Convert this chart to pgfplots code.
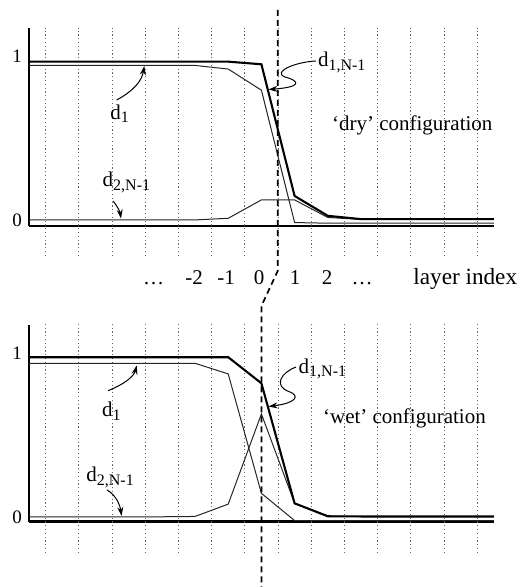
\documentclass[border=0pt]{standalone}
\usepackage{fontspec}
\setmainfont{Liberation Serif}
\usepackage{pgfplots}
\pgfplotsset{compat=1.18}
\usetikzlibrary{arrows.meta}

\newcommand{\dsub}[1]{d\raisebox{-1.8pt}{\fontsize{8}{8}\selectfont #1}}

\tikzset{dotline/.style={line width=0.5pt, black!60, dash pattern=on 0.6pt off 1.3pt}}
\pgfplotsset{
  panel/.style={
    anchor=south west, x=16.6pt, y=82pt, xmin=-7, xmax=7,
    axis x line*=bottom, axis y line*=left,
    axis line style={line width=1.4pt},
    xtick=\empty, ytick={0,1}, major tick length=0pt,
    tick label style={font=\fontsize{9.5}{9.5}\selectfont},
    /pgf/number format/assume math mode=true,
    clip=false,
  },
  thk/.style={line width=1.05pt, black, mark=none},
  thn/.style={line width=0.5pt, black!85, mark=none},
}

\begin{document}
\begin{tikzpicture}
\path[use as bounding box] (0pt,0pt) rectangle (262pt,293.5pt);

% ---------------- top panel: dry ----------------
\begin{scope}[shift={(14.5pt,180.5pt)}]
\begin{axis}[panel, ymin=-0.037, ymax=1.171]
  \pgfplotsinvokeforeach{-6.5,-5.5,...,6.5}{
    \draw[dotline] (axis cs:#1,-0.22) -- (axis cs:#1,1.171);
  }
  % d_{2,N-1}
  \addplot[thn] coordinates {(-7,0) (-6,0) (-5,0) (-4,0) (-3,0) (-2,0.0) (-1,0.01) (0,0.122) (1,0.122) (2,0.015) (3,0.003) (4,0.003) (5,0.003) (6,0.003) (7,0.003)};
  % d_1
  \addplot[thn] coordinates {(-7,0.942) (-6,0.942) (-5,0.942) (-4,0.942) (-3,0.942) (-2,0.942) (-1,0.92) (0,0.791) (1,-0.016) (2,-0.02) (3,-0.02) (4,-0.02) (5,-0.02) (6,-0.02) (7,-0.02)};
  % d_{1,N-1}
  \addplot[thk] coordinates {(-7,0.965) (-6,0.965) (-5,0.965) (-4,0.965) (-3,0.965) (-2,0.965) (-1,0.965) (0,0.949) (1,0.146) (2,0.025) (3,0.005) (4,0.005) (5,0.005) (6,0.005) (7,0.005)};
\end{axis}
\end{scope}

% ---------------- bottom panel: wet ----------------
\begin{scope}[shift={(14.5pt,32.65pt)}]
\begin{axis}[panel, ymin=-0.027, ymax=1.1726]
  \pgfplotsinvokeforeach{-6.5,-5.5,...,6.5}{
    \draw[dotline] (axis cs:#1,-0.218) -- (axis cs:#1,1.185);
  }
  % d_{2,N-1}
  \addplot[thn] coordinates {(-7,0.003) (-6,0.003) (-5,0.003) (-4,0.003) (-3,0.003) (-2,0.005) (-1,0.08) (0,0.63) (1,0.085) (2,0.008) (3,0.004) (4,0.004) (5,0.004) (6,0.004) (7,0.004)};
  % d_1
  \addplot[thn] coordinates {(-7,0.939) (-6,0.939) (-5,0.939) (-4,0.939) (-3,0.939) (-2,0.939) (-1,0.874) (0,0.146) (1,-0.02) (2,-0.02) (3,-0.02) (4,-0.02) (5,-0.02) (6,-0.02) (7,-0.02)};
  % d_{1,N-1}
  \addplot[thk] coordinates {(-7,0.976) (-6,0.976) (-5,0.976) (-4,0.976) (-3,0.976) (-2,0.976) (-1,0.976) (0,0.817) (1,0.085) (2,0.006) (3,0.005) (4,0.005) (5,0.005) (6,0.005) (7,0.005)};
\end{axis}
\end{scope}

\begin{scope}[x=0.5pt, y=-0.5pt, shift={(0pt,293.5pt)}]
% ---------------- interface (dashed) ----------------
\draw[line width=0.85pt, dash pattern=on 3pt off 2pt] (277.7,10) -- (277.7,271) -- (261.4,306) -- (261.4,587);

% ---------------- annotation arrows ----------------
\begin{scope}[line width=0.5pt, -{Stealth[length=4.5pt,width=3pt]}]
  \draw (116.7,100) .. controls (135,90) and (142,80) .. (144.3,66);
  \draw (113,201) .. controls (118,207) and (120,212) .. (121,218.5);
  \draw (316,61) .. controls (295,62) and (272,72) .. (285,77) .. controls (300,81) and (302,87) .. (268.5,89.5);
  \draw (108,390.7) .. controls (125,384) and (134,376) .. (136.7,365.5);
  \draw (107,490) .. controls (116,495) and (120,505) .. (121.5,516);
  \draw (296,367) .. controls (282,372) and (272,386) .. (290,392) .. controls (300,396) and (296,403) .. (268.5,406.5);
\end{scope}

\begin{scope}[every node/.style={font=\fontsize{10.5}{10.5}\selectfont, inner sep=0pt}]
  \node[anchor=base west] at (110,119.3) {\dsub{1}};
  \node[anchor=base west] at (102.3,186.7) {\dsub{2,N-1}};
  \node[anchor=base west] at (317.7,66.7) {\dsub{1,N-1}};
  \node[anchor=base west] at (331.7,131) {‘dry’ configuration};
  \node[anchor=base west] at (101.7,416.7) {\dsub{1}};
  \node[anchor=base west] at (86,481.7) {\dsub{2,N-1}};
  \node[anchor=base west] at (298.3,373.3) {\dsub{1,N-1}};
  \node[anchor=base west] at (322.7,423.3) {‘wet’ configuration};
  % layer index row
  \node[anchor=base] at (153.5,285) {\ldots};
  \node[anchor=base] at (194,285) {-2};
  \node[anchor=base] at (226,285) {-1};
  \node[anchor=base] at (259,285) {0};
  \node[anchor=base] at (295,285) {1};
  \node[anchor=base] at (327,285) {2};
  \node[anchor=base] at (362,285) {\ldots};
  \node[anchor=base west, font=\fontsize{11.6}{11.6}\selectfont] at (413,285) {layer index};
\end{scope}
\end{scope}
\end{tikzpicture}
\end{document}
